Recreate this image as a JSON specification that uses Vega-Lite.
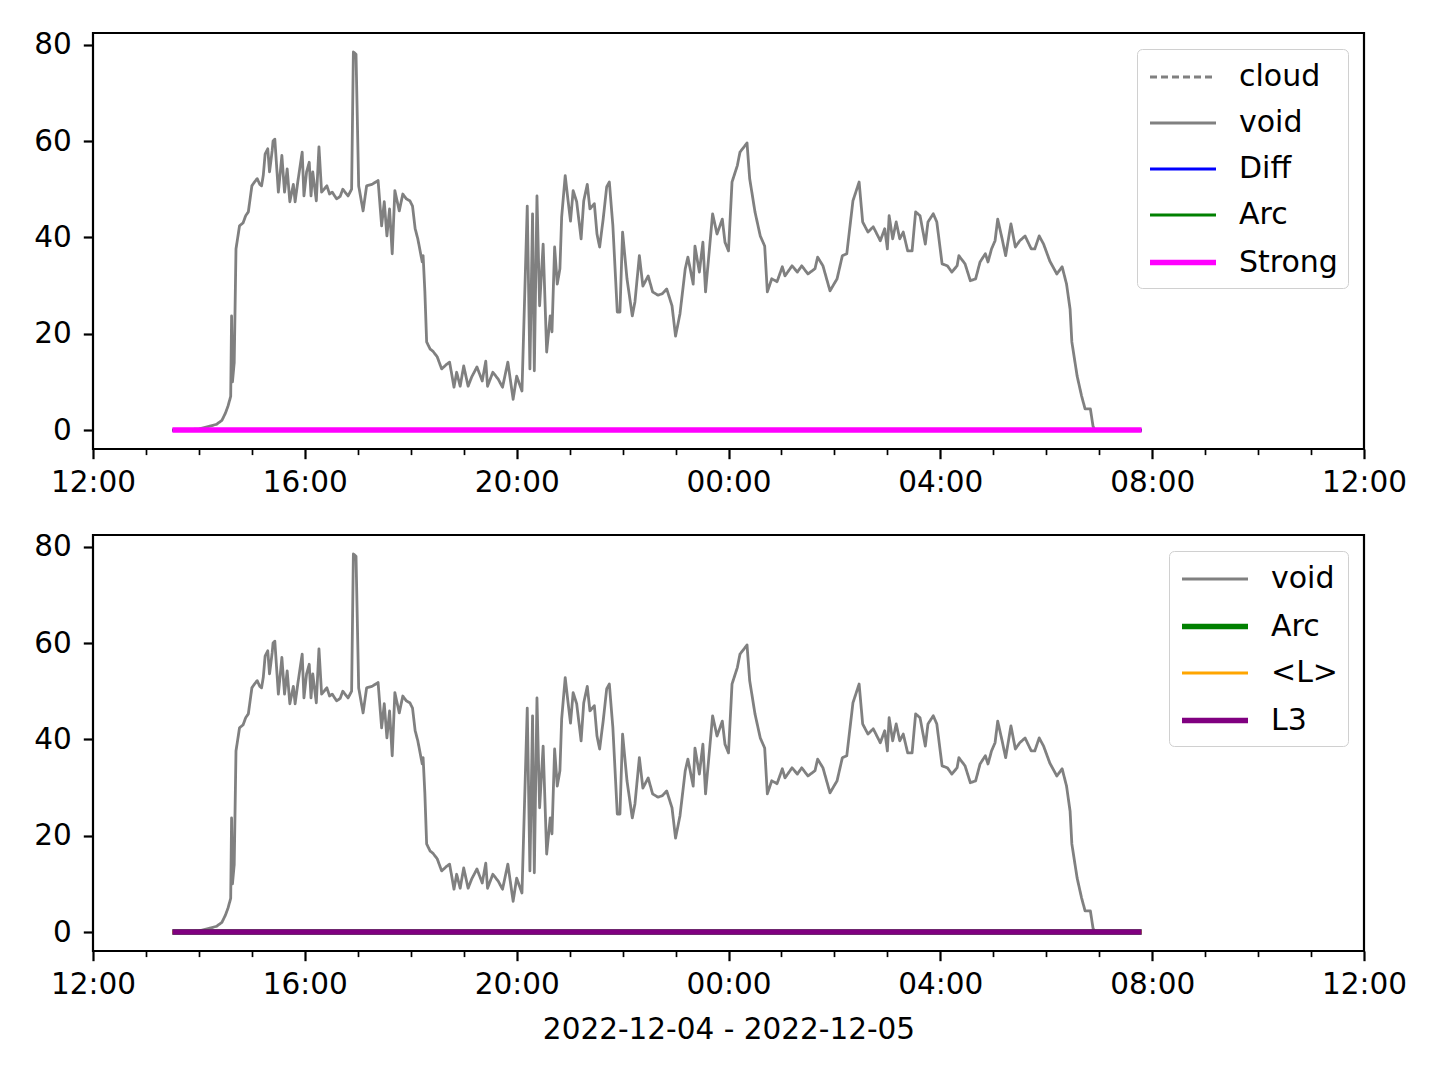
{
  "$schema": "https://vega.github.io/schema/vega-lite/v6.json",
  "padding": {"left": 32, "top": 28, "right": 0, "bottom": 0},
  "background": "white",
  "config": {
    "font": "DejaVu Sans",
    "view": {"stroke": "black", "strokeWidth": 2.2},
    "axis": {"grid": false, "domain": false, "labelFont": "DejaVu Sans", "labelFontSize": 29.5, "labelColor": "black", "tickColor": "black", "tickWidth": 2.2, "tickSize": 9.7, "labelPadding": 10, "titleFont": "DejaVu Sans", "titleFontSize": 29.5, "titleFontWeight": "normal", "titleColor": "black"},
    "legend": {"orient": "top-right", "offset": 16, "fillColor": "white", "strokeColor": "#d0d0d0", "cornerRadius": 5, "padding": 10, "labelFont": "DejaVu Sans", "labelFontSize": 30, "labelColor": "black", "symbolType": "M-1,0H3", "symbolSize": 1089, "labelOffset": 53, "rowPadding": 13, "title": null},
    "concat": {"spacing": 31},
    "line": {"strokeJoin": "round", "strokeCap": "butt"}
  },
  "datasets": {
    "void": [
      {"t": "2022-12-04T13:30", "v": 0, "s": "void"},
      {"t": "2022-12-04T14:00", "v": 0.2, "s": "void"},
      {"t": "2022-12-04T14:12", "v": 0.8, "s": "void"},
      {"t": "2022-12-04T14:20", "v": 1.2, "s": "void"},
      {"t": "2022-12-04T14:26", "v": 2, "s": "void"},
      {"t": "2022-12-04T14:30", "v": 3.5, "s": "void"},
      {"t": "2022-12-04T14:33", "v": 5, "s": "void"},
      {"t": "2022-12-04T14:36", "v": 7, "s": "void"},
      {"t": "2022-12-04T14:37", "v": 23.7, "s": "void"},
      {"t": "2022-12-04T14:38", "v": 10, "s": "void"},
      {"t": "2022-12-04T14:40", "v": 14, "s": "void"},
      {"t": "2022-12-04T14:42", "v": 37.6, "s": "void"},
      {"t": "2022-12-04T14:46", "v": 42.4, "s": "void"},
      {"t": "2022-12-04T14:50", "v": 43, "s": "void"},
      {"t": "2022-12-04T14:53", "v": 44.5, "s": "void"},
      {"t": "2022-12-04T14:56", "v": 45.3, "s": "void"},
      {"t": "2022-12-04T15:00", "v": 50.7, "s": "void"},
      {"t": "2022-12-04T15:03", "v": 51.5, "s": "void"},
      {"t": "2022-12-04T15:06", "v": 52.2, "s": "void"},
      {"t": "2022-12-04T15:09", "v": 51, "s": "void"},
      {"t": "2022-12-04T15:11", "v": 50.7, "s": "void"},
      {"t": "2022-12-04T15:13", "v": 53, "s": "void"},
      {"t": "2022-12-04T15:15", "v": 57.3, "s": "void"},
      {"t": "2022-12-04T15:18", "v": 58.4, "s": "void"},
      {"t": "2022-12-04T15:20", "v": 53.6, "s": "void"},
      {"t": "2022-12-04T15:23", "v": 58, "s": "void"},
      {"t": "2022-12-04T15:24", "v": 60, "s": "void"},
      {"t": "2022-12-04T15:26", "v": 60.4, "s": "void"},
      {"t": "2022-12-04T15:30", "v": 49.4, "s": "void"},
      {"t": "2022-12-04T15:34", "v": 57, "s": "void"},
      {"t": "2022-12-04T15:37", "v": 49.4, "s": "void"},
      {"t": "2022-12-04T15:40", "v": 54.2, "s": "void"},
      {"t": "2022-12-04T15:43", "v": 47.4, "s": "void"},
      {"t": "2022-12-04T15:47", "v": 51, "s": "void"},
      {"t": "2022-12-04T15:49", "v": 47.4, "s": "void"},
      {"t": "2022-12-04T15:52", "v": 51.5, "s": "void"},
      {"t": "2022-12-04T15:57", "v": 57.7, "s": "void"},
      {"t": "2022-12-04T15:59", "v": 48.6, "s": "void"},
      {"t": "2022-12-04T16:02", "v": 53.6, "s": "void"},
      {"t": "2022-12-04T16:05", "v": 55.6, "s": "void"},
      {"t": "2022-12-04T16:07", "v": 48.6, "s": "void"},
      {"t": "2022-12-04T16:09", "v": 53.6, "s": "void"},
      {"t": "2022-12-04T16:13", "v": 47.6, "s": "void"},
      {"t": "2022-12-04T16:16", "v": 58.8, "s": "void"},
      {"t": "2022-12-04T16:19", "v": 49.4, "s": "void"},
      {"t": "2022-12-04T16:25", "v": 50.7, "s": "void"},
      {"t": "2022-12-04T16:28", "v": 49, "s": "void"},
      {"t": "2022-12-04T16:31", "v": 49.4, "s": "void"},
      {"t": "2022-12-04T16:36", "v": 48, "s": "void"},
      {"t": "2022-12-04T16:40", "v": 48.5, "s": "void"},
      {"t": "2022-12-04T16:43", "v": 50, "s": "void"},
      {"t": "2022-12-04T16:49", "v": 48.6, "s": "void"},
      {"t": "2022-12-04T16:53", "v": 50, "s": "void"},
      {"t": "2022-12-04T16:55", "v": 78.5, "s": "void"},
      {"t": "2022-12-04T16:58", "v": 78, "s": "void"},
      {"t": "2022-12-04T17:01", "v": 50.7, "s": "void"},
      {"t": "2022-12-04T17:06", "v": 45.5, "s": "void"},
      {"t": "2022-12-04T17:10", "v": 50.7, "s": "void"},
      {"t": "2022-12-04T17:16", "v": 51, "s": "void"},
      {"t": "2022-12-04T17:23", "v": 51.8, "s": "void"},
      {"t": "2022-12-04T17:27", "v": 42.4, "s": "void"},
      {"t": "2022-12-04T17:30", "v": 47.4, "s": "void"},
      {"t": "2022-12-04T17:33", "v": 40.3, "s": "void"},
      {"t": "2022-12-04T17:36", "v": 45.9, "s": "void"},
      {"t": "2022-12-04T17:39", "v": 36.6, "s": "void"},
      {"t": "2022-12-04T17:42", "v": 49.7, "s": "void"},
      {"t": "2022-12-04T17:47", "v": 45.5, "s": "void"},
      {"t": "2022-12-04T17:51", "v": 49, "s": "void"},
      {"t": "2022-12-04T17:55", "v": 48, "s": "void"},
      {"t": "2022-12-04T17:59", "v": 47.6, "s": "void"},
      {"t": "2022-12-04T18:02", "v": 46.5, "s": "void"},
      {"t": "2022-12-04T18:05", "v": 41.8, "s": "void"},
      {"t": "2022-12-04T18:08", "v": 39.7, "s": "void"},
      {"t": "2022-12-04T18:13", "v": 34.9, "s": "void"},
      {"t": "2022-12-04T18:14", "v": 36.2, "s": "void"},
      {"t": "2022-12-04T18:16", "v": 28.7, "s": "void"},
      {"t": "2022-12-04T18:18", "v": 18.3, "s": "void"},
      {"t": "2022-12-04T18:22", "v": 16.8, "s": "void"},
      {"t": "2022-12-04T18:25", "v": 16.4, "s": "void"},
      {"t": "2022-12-04T18:30", "v": 15.2, "s": "void"},
      {"t": "2022-12-04T18:35", "v": 12.7, "s": "void"},
      {"t": "2022-12-04T18:41", "v": 13.7, "s": "void"},
      {"t": "2022-12-04T18:44", "v": 14.1, "s": "void"},
      {"t": "2022-12-04T18:49", "v": 8.9, "s": "void"},
      {"t": "2022-12-04T18:52", "v": 12, "s": "void"},
      {"t": "2022-12-04T18:56", "v": 9.1, "s": "void"},
      {"t": "2022-12-04T19:00", "v": 13.3, "s": "void"},
      {"t": "2022-12-04T19:05", "v": 9.1, "s": "void"},
      {"t": "2022-12-04T19:09", "v": 11, "s": "void"},
      {"t": "2022-12-04T19:15", "v": 13.1, "s": "void"},
      {"t": "2022-12-04T19:21", "v": 10.2, "s": "void"},
      {"t": "2022-12-04T19:25", "v": 14.3, "s": "void"},
      {"t": "2022-12-04T19:27", "v": 9.1, "s": "void"},
      {"t": "2022-12-04T19:33", "v": 12, "s": "void"},
      {"t": "2022-12-04T19:39", "v": 10.6, "s": "void"},
      {"t": "2022-12-04T19:44", "v": 8.9, "s": "void"},
      {"t": "2022-12-04T19:50", "v": 14.1, "s": "void"},
      {"t": "2022-12-04T19:56", "v": 6.4, "s": "void"},
      {"t": "2022-12-04T20:00", "v": 11.2, "s": "void"},
      {"t": "2022-12-04T20:06", "v": 8.1, "s": "void"},
      {"t": "2022-12-04T20:12", "v": 46.5, "s": "void"},
      {"t": "2022-12-04T20:15", "v": 12.7, "s": "void"},
      {"t": "2022-12-04T20:18", "v": 44.9, "s": "void"},
      {"t": "2022-12-04T20:20", "v": 12.3, "s": "void"},
      {"t": "2022-12-04T20:23", "v": 48.6, "s": "void"},
      {"t": "2022-12-04T20:26", "v": 25.8, "s": "void"},
      {"t": "2022-12-04T20:30", "v": 38.6, "s": "void"},
      {"t": "2022-12-04T20:34", "v": 16.2, "s": "void"},
      {"t": "2022-12-04T20:38", "v": 23.7, "s": "void"},
      {"t": "2022-12-04T20:40", "v": 20.4, "s": "void"},
      {"t": "2022-12-04T20:43", "v": 38, "s": "void"},
      {"t": "2022-12-04T20:46", "v": 30.3, "s": "void"},
      {"t": "2022-12-04T20:49", "v": 33.5, "s": "void"},
      {"t": "2022-12-04T20:51", "v": 44.3, "s": "void"},
      {"t": "2022-12-04T20:55", "v": 52.8, "s": "void"},
      {"t": "2022-12-04T20:58", "v": 48, "s": "void"},
      {"t": "2022-12-04T21:01", "v": 43.4, "s": "void"},
      {"t": "2022-12-04T21:04", "v": 49.7, "s": "void"},
      {"t": "2022-12-04T21:08", "v": 47.4, "s": "void"},
      {"t": "2022-12-04T21:13", "v": 39.7, "s": "void"},
      {"t": "2022-12-04T21:16", "v": 47.6, "s": "void"},
      {"t": "2022-12-04T21:20", "v": 51, "s": "void"},
      {"t": "2022-12-04T21:23", "v": 45.9, "s": "void"},
      {"t": "2022-12-04T21:28", "v": 47, "s": "void"},
      {"t": "2022-12-04T21:31", "v": 40.7, "s": "void"},
      {"t": "2022-12-04T21:34", "v": 38, "s": "void"},
      {"t": "2022-12-04T21:38", "v": 43.8, "s": "void"},
      {"t": "2022-12-04T21:42", "v": 50.5, "s": "void"},
      {"t": "2022-12-04T21:45", "v": 51.5, "s": "void"},
      {"t": "2022-12-04T21:49", "v": 42.4, "s": "void"},
      {"t": "2022-12-04T21:54", "v": 24.5, "s": "void"},
      {"t": "2022-12-04T21:57", "v": 24.5, "s": "void"},
      {"t": "2022-12-04T22:00", "v": 41.1, "s": "void"},
      {"t": "2022-12-04T22:05", "v": 31.4, "s": "void"},
      {"t": "2022-12-04T22:11", "v": 23.7, "s": "void"},
      {"t": "2022-12-04T22:14", "v": 26.6, "s": "void"},
      {"t": "2022-12-04T22:19", "v": 36.2, "s": "void"},
      {"t": "2022-12-04T22:23", "v": 29.9, "s": "void"},
      {"t": "2022-12-04T22:29", "v": 32, "s": "void"},
      {"t": "2022-12-04T22:34", "v": 28.7, "s": "void"},
      {"t": "2022-12-04T22:40", "v": 28, "s": "void"},
      {"t": "2022-12-04T22:45", "v": 28.3, "s": "void"},
      {"t": "2022-12-04T22:50", "v": 29.3, "s": "void"},
      {"t": "2022-12-04T22:56", "v": 25.8, "s": "void"},
      {"t": "2022-12-04T23:00", "v": 19.5, "s": "void"},
      {"t": "2022-12-04T23:05", "v": 24.1, "s": "void"},
      {"t": "2022-12-04T23:11", "v": 33.5, "s": "void"},
      {"t": "2022-12-04T23:14", "v": 35.9, "s": "void"},
      {"t": "2022-12-04T23:20", "v": 30.3, "s": "void"},
      {"t": "2022-12-04T23:22", "v": 38.2, "s": "void"},
      {"t": "2022-12-04T23:27", "v": 32.8, "s": "void"},
      {"t": "2022-12-04T23:31", "v": 39, "s": "void"},
      {"t": "2022-12-04T23:34", "v": 28.7, "s": "void"},
      {"t": "2022-12-04T23:42", "v": 44.9, "s": "void"},
      {"t": "2022-12-04T23:47", "v": 40.7, "s": "void"},
      {"t": "2022-12-04T23:53", "v": 43.8, "s": "void"},
      {"t": "2022-12-04T23:56", "v": 39, "s": "void"},
      {"t": "2022-12-05T00:00", "v": 37.2, "s": "void"},
      {"t": "2022-12-05T00:04", "v": 51.5, "s": "void"},
      {"t": "2022-12-05T00:10", "v": 54.9, "s": "void"},
      {"t": "2022-12-05T00:13", "v": 57.7, "s": "void"},
      {"t": "2022-12-05T00:21", "v": 59.6, "s": "void"},
      {"t": "2022-12-05T00:24", "v": 52.2, "s": "void"},
      {"t": "2022-12-05T00:30", "v": 45.3, "s": "void"},
      {"t": "2022-12-05T00:36", "v": 40.3, "s": "void"},
      {"t": "2022-12-05T00:41", "v": 38.2, "s": "void"},
      {"t": "2022-12-05T00:44", "v": 28.7, "s": "void"},
      {"t": "2022-12-05T00:49", "v": 31.4, "s": "void"},
      {"t": "2022-12-05T00:55", "v": 30.8, "s": "void"},
      {"t": "2022-12-05T01:01", "v": 33.9, "s": "void"},
      {"t": "2022-12-05T01:04", "v": 32, "s": "void"},
      {"t": "2022-12-05T01:12", "v": 34.1, "s": "void"},
      {"t": "2022-12-05T01:18", "v": 32.8, "s": "void"},
      {"t": "2022-12-05T01:23", "v": 34.1, "s": "void"},
      {"t": "2022-12-05T01:30", "v": 32.4, "s": "void"},
      {"t": "2022-12-05T01:38", "v": 33.5, "s": "void"},
      {"t": "2022-12-05T01:41", "v": 35.9, "s": "void"},
      {"t": "2022-12-05T01:47", "v": 34.1, "s": "void"},
      {"t": "2022-12-05T01:55", "v": 28.9, "s": "void"},
      {"t": "2022-12-05T02:03", "v": 31.4, "s": "void"},
      {"t": "2022-12-05T02:09", "v": 36.2, "s": "void"},
      {"t": "2022-12-05T02:14", "v": 36.6, "s": "void"},
      {"t": "2022-12-05T02:21", "v": 47.6, "s": "void"},
      {"t": "2022-12-05T02:28", "v": 51.5, "s": "void"},
      {"t": "2022-12-05T02:32", "v": 43.2, "s": "void"},
      {"t": "2022-12-05T02:38", "v": 41.1, "s": "void"},
      {"t": "2022-12-05T02:44", "v": 42.2, "s": "void"},
      {"t": "2022-12-05T02:52", "v": 39.3, "s": "void"},
      {"t": "2022-12-05T02:57", "v": 41.8, "s": "void"},
      {"t": "2022-12-05T03:00", "v": 37.6, "s": "void"},
      {"t": "2022-12-05T03:02", "v": 44.5, "s": "void"},
      {"t": "2022-12-05T03:06", "v": 39.7, "s": "void"},
      {"t": "2022-12-05T03:10", "v": 43.2, "s": "void"},
      {"t": "2022-12-05T03:14", "v": 39.7, "s": "void"},
      {"t": "2022-12-05T03:18", "v": 41.1, "s": "void"},
      {"t": "2022-12-05T03:23", "v": 37.2, "s": "void"},
      {"t": "2022-12-05T03:28", "v": 37.2, "s": "void"},
      {"t": "2022-12-05T03:32", "v": 45.3, "s": "void"},
      {"t": "2022-12-05T03:37", "v": 44.5, "s": "void"},
      {"t": "2022-12-05T03:43", "v": 38.6, "s": "void"},
      {"t": "2022-12-05T03:46", "v": 43.2, "s": "void"},
      {"t": "2022-12-05T03:52", "v": 44.9, "s": "void"},
      {"t": "2022-12-05T03:56", "v": 43.2, "s": "void"},
      {"t": "2022-12-05T04:02", "v": 34.5, "s": "void"},
      {"t": "2022-12-05T04:08", "v": 34.1, "s": "void"},
      {"t": "2022-12-05T04:13", "v": 32.8, "s": "void"},
      {"t": "2022-12-05T04:19", "v": 34.1, "s": "void"},
      {"t": "2022-12-05T04:21", "v": 36.2, "s": "void"},
      {"t": "2022-12-05T04:28", "v": 34.5, "s": "void"},
      {"t": "2022-12-05T04:34", "v": 31, "s": "void"},
      {"t": "2022-12-05T04:40", "v": 31.4, "s": "void"},
      {"t": "2022-12-05T04:45", "v": 34.9, "s": "void"},
      {"t": "2022-12-05T04:51", "v": 36.6, "s": "void"},
      {"t": "2022-12-05T04:54", "v": 34.9, "s": "void"},
      {"t": "2022-12-05T04:58", "v": 37.6, "s": "void"},
      {"t": "2022-12-05T05:02", "v": 39.3, "s": "void"},
      {"t": "2022-12-05T05:05", "v": 43.8, "s": "void"},
      {"t": "2022-12-05T05:10", "v": 39.7, "s": "void"},
      {"t": "2022-12-05T05:14", "v": 36.2, "s": "void"},
      {"t": "2022-12-05T05:20", "v": 42.8, "s": "void"},
      {"t": "2022-12-05T05:25", "v": 38, "s": "void"},
      {"t": "2022-12-05T05:30", "v": 39.3, "s": "void"},
      {"t": "2022-12-05T05:36", "v": 40.3, "s": "void"},
      {"t": "2022-12-05T05:43", "v": 37.6, "s": "void"},
      {"t": "2022-12-05T05:47", "v": 37.6, "s": "void"},
      {"t": "2022-12-05T05:52", "v": 40.3, "s": "void"},
      {"t": "2022-12-05T05:57", "v": 38.6, "s": "void"},
      {"t": "2022-12-05T06:04", "v": 35.1, "s": "void"},
      {"t": "2022-12-05T06:12", "v": 32.4, "s": "void"},
      {"t": "2022-12-05T06:18", "v": 33.9, "s": "void"},
      {"t": "2022-12-05T06:23", "v": 30.3, "s": "void"},
      {"t": "2022-12-05T06:27", "v": 25.1, "s": "void"},
      {"t": "2022-12-05T06:29", "v": 18.3, "s": "void"},
      {"t": "2022-12-05T06:35", "v": 11.2, "s": "void"},
      {"t": "2022-12-05T06:40", "v": 7.1, "s": "void"},
      {"t": "2022-12-05T06:44", "v": 4.4, "s": "void"},
      {"t": "2022-12-05T06:50", "v": 4.4, "s": "void"},
      {"t": "2022-12-05T06:53", "v": 0.8, "s": "void"},
      {"t": "2022-12-05T06:55", "v": 0, "s": "void"},
      {"t": "2022-12-05T07:48", "v": 0, "s": "void"}
    ],
    "flat1": [
      {"t": "2022-12-04T13:30", "v": 0, "s": "cloud"},
      {"t": "2022-12-05T07:48", "v": 0, "s": "cloud"},
      {"t": "2022-12-04T13:30", "v": 0, "s": "Diff"},
      {"t": "2022-12-05T07:48", "v": 0, "s": "Diff"},
      {"t": "2022-12-04T13:30", "v": 0, "s": "Arc"},
      {"t": "2022-12-05T07:48", "v": 0, "s": "Arc"},
      {"t": "2022-12-04T13:30", "v": 0, "s": "Strong"},
      {"t": "2022-12-05T07:48", "v": 0, "s": "Strong"}
    ],
    "flat2": [
      {"t": "2022-12-04T13:30", "v": 0, "s": "Arc"},
      {"t": "2022-12-05T07:48", "v": 0, "s": "Arc"},
      {"t": "2022-12-04T13:30", "v": 0, "s": "<L>"},
      {"t": "2022-12-05T07:48", "v": 0, "s": "<L>"},
      {"t": "2022-12-04T13:30", "v": 0, "s": "L3"},
      {"t": "2022-12-05T07:48", "v": 0, "s": "L3"}
    ]
  },
  "vconcat": [
    {
      "width": 1271,
      "height": 416,
      "encoding": {
        "x": {"field": "t", "type": "temporal",
          "scale": {"domain": [{"year": 2022, "month": 12, "date": 4, "hours": 12}, {"year": 2022, "month": 12, "date": 5, "hours": 12}]},
          "axis": {"title": null, "labelFlush": false, "labelOverlap": false, "labelBound": false,
            "values": [
              {"year": 2022, "month": 12, "date": 4, "hours": 12}, {"year": 2022, "month": 12, "date": 4, "hours": 13}, {"year": 2022, "month": 12, "date": 4, "hours": 14}, {"year": 2022, "month": 12, "date": 4, "hours": 15}, {"year": 2022, "month": 12, "date": 4, "hours": 16}, {"year": 2022, "month": 12, "date": 4, "hours": 17}, {"year": 2022, "month": 12, "date": 4, "hours": 18}, {"year": 2022, "month": 12, "date": 4, "hours": 19}, {"year": 2022, "month": 12, "date": 4, "hours": 20}, {"year": 2022, "month": 12, "date": 4, "hours": 21}, {"year": 2022, "month": 12, "date": 4, "hours": 22}, {"year": 2022, "month": 12, "date": 4, "hours": 23},
              {"year": 2022, "month": 12, "date": 5, "hours": 0}, {"year": 2022, "month": 12, "date": 5, "hours": 1}, {"year": 2022, "month": 12, "date": 5, "hours": 2}, {"year": 2022, "month": 12, "date": 5, "hours": 3}, {"year": 2022, "month": 12, "date": 5, "hours": 4}, {"year": 2022, "month": 12, "date": 5, "hours": 5}, {"year": 2022, "month": 12, "date": 5, "hours": 6}, {"year": 2022, "month": 12, "date": 5, "hours": 7}, {"year": 2022, "month": 12, "date": 5, "hours": 8}, {"year": 2022, "month": 12, "date": 5, "hours": 9}, {"year": 2022, "month": 12, "date": 5, "hours": 10}, {"year": 2022, "month": 12, "date": 5, "hours": 11}, {"year": 2022, "month": 12, "date": 5, "hours": 12}
            ],
            "labelExpr": "hours(datum.value) % 4 == 0 ? timeFormat(datum.value, '%H:%M') : ''",
            "tickSize": {"condition": {"test": "hours(datum.value) % 4 == 0", "value": 9.7}, "value": 5.6},
            "tickWidth": {"condition": {"test": "hours(datum.value) % 4 == 0", "value": 2.2}, "value": 1.7}
          }},
        "y": {"field": "v", "type": "quantitative",
          "scale": {"domain": [-3.93, 82.43], "nice": false, "zero": false},
          "axis": {"title": null, "values": [0, 20, 40, 60, 80], "labelPadding": 12}},
        "color": {"field": "s", "type": "nominal", "title": null,
          "scale": {"domain": ["cloud", "void", "Diff", "Arc", "Strong"], "range": ["#808080", "#808080", "#0000ff", "#008000", "#ff00ff"]}},
        "strokeDash": {"field": "s", "type": "nominal", "title": null,
          "scale": {"domain": ["cloud", "void", "Diff", "Arc", "Strong"], "range": [[7, 4], [1, 0], [1, 0], [1, 0], [1, 0]]}},
        "strokeWidth": {"field": "s", "type": "nominal", "title": null,
          "scale": {"type": "ordinal", "domain": ["cloud", "void", "Diff", "Arc", "Strong"], "range": [2.8, 2.8, 2.8, 2.8, 5.6]}}
      },
      "layer": [
        {"data": {"name": "void"}, "mark": {"type": "line"}},
        {"data": {"name": "flat1"}, "mark": {"type": "line"}}
      ]
    },
    {
      "width": 1271,
      "height": 416,
      "encoding": {
        "x": {"field": "t", "type": "temporal",
          "scale": {"domain": [{"year": 2022, "month": 12, "date": 4, "hours": 12}, {"year": 2022, "month": 12, "date": 5, "hours": 12}]},
          "axis": {"title": "2022-12-04 - 2022-12-05", "titlePadding": 16, "labelFlush": false, "labelOverlap": false, "labelBound": false,
            "values": [
              {"year": 2022, "month": 12, "date": 4, "hours": 12}, {"year": 2022, "month": 12, "date": 4, "hours": 13}, {"year": 2022, "month": 12, "date": 4, "hours": 14}, {"year": 2022, "month": 12, "date": 4, "hours": 15}, {"year": 2022, "month": 12, "date": 4, "hours": 16}, {"year": 2022, "month": 12, "date": 4, "hours": 17}, {"year": 2022, "month": 12, "date": 4, "hours": 18}, {"year": 2022, "month": 12, "date": 4, "hours": 19}, {"year": 2022, "month": 12, "date": 4, "hours": 20}, {"year": 2022, "month": 12, "date": 4, "hours": 21}, {"year": 2022, "month": 12, "date": 4, "hours": 22}, {"year": 2022, "month": 12, "date": 4, "hours": 23},
              {"year": 2022, "month": 12, "date": 5, "hours": 0}, {"year": 2022, "month": 12, "date": 5, "hours": 1}, {"year": 2022, "month": 12, "date": 5, "hours": 2}, {"year": 2022, "month": 12, "date": 5, "hours": 3}, {"year": 2022, "month": 12, "date": 5, "hours": 4}, {"year": 2022, "month": 12, "date": 5, "hours": 5}, {"year": 2022, "month": 12, "date": 5, "hours": 6}, {"year": 2022, "month": 12, "date": 5, "hours": 7}, {"year": 2022, "month": 12, "date": 5, "hours": 8}, {"year": 2022, "month": 12, "date": 5, "hours": 9}, {"year": 2022, "month": 12, "date": 5, "hours": 10}, {"year": 2022, "month": 12, "date": 5, "hours": 11}, {"year": 2022, "month": 12, "date": 5, "hours": 12}
            ],
            "labelExpr": "hours(datum.value) % 4 == 0 ? timeFormat(datum.value, '%H:%M') : ''",
            "tickSize": {"condition": {"test": "hours(datum.value) % 4 == 0", "value": 9.7}, "value": 5.6},
            "tickWidth": {"condition": {"test": "hours(datum.value) % 4 == 0", "value": 2.2}, "value": 1.7}
          }},
        "y": {"field": "v", "type": "quantitative",
          "scale": {"domain": [-3.93, 82.43], "nice": false, "zero": false},
          "axis": {"title": null, "values": [0, 20, 40, 60, 80], "labelPadding": 12}},
        "color": {"field": "s", "type": "nominal", "title": null,
          "scale": {"domain": ["void", "Arc", "<L>", "L3"], "range": ["#808080", "#008000", "#ffa500", "#800080"]}},
        "strokeDash": {"field": "s", "type": "nominal", "title": null,
          "scale": {"domain": ["void", "Arc", "<L>", "L3"], "range": [[1, 0], [1, 0], [1, 0], [1, 0]]}},
        "strokeWidth": {"field": "s", "type": "nominal", "title": null,
          "scale": {"type": "ordinal", "domain": ["void", "Arc", "<L>", "L3"], "range": [2.8, 5.6, 2.8, 5.6]}}
      },
      "layer": [
        {"data": {"name": "void"}, "mark": {"type": "line"}},
        {"data": {"name": "flat2"}, "mark": {"type": "line"}}
      ]
    }
  ],
  "resolve": {"scale": {"color": "independent", "strokeDash": "independent", "strokeWidth": "independent"}, "legend": {"color": "independent", "strokeDash": "independent", "strokeWidth": "independent"}}
}
